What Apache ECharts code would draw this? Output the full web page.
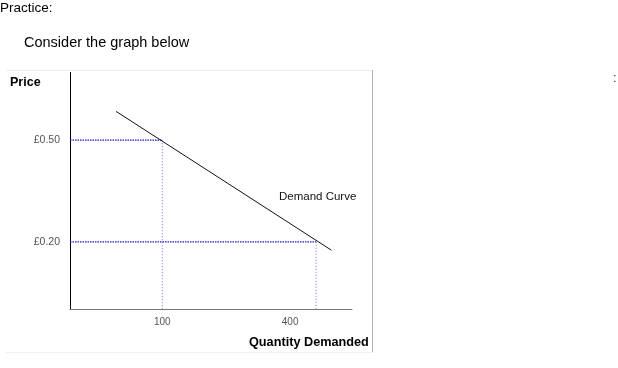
<!DOCTYPE html>
<html>
<head>
<meta charset="utf-8">
<script src="https://cdn.jsdelivr.net/npm/echarts@6/dist/echarts.min.js"></script>
<style>
html,body{margin:0;padding:0;background:#fff;}
#c{width:618px;height:368px;}
</style>
</head>
<body>
<div id="c"></div>
<script>
// Demand curve (quantity, price)
const demandQty = [10, 430];
const demandPrice = [0.585, 0.175];
// Marked points on the curve
const markQty = [100, 400];
const markPrice = [0.50, 0.20];
const xTickLabels = ['100', '400'];
const yTickLabels = ['£0.50', '£0.20'];

const chart = echarts.init(document.getElementById('c'), null, {renderer: 'canvas'});

const series = [];
series.push({
  type: 'line',
  data: demandQty.map((q, i) => [q, demandPrice[i]]),
  symbol: 'none',
  lineStyle: {color: '#111', width: 1},
  silent: true,
  z: 5
});
markQty.forEach((q, i) => {
  series.push({
    type: 'line',
    data: [[-80, markPrice[i]], [q, markPrice[i]]],
    symbol: 'none',
    lineStyle: {color: '#1a1acc', width: 1.3, type: [1.5, 1]},
    silent: true
  });
  series.push({
    type: 'line',
    data: [[q, markPrice[i]], [q, 0]],
    symbol: 'none',
    lineStyle: {color: '#6a6af0', width: 1, type: [1, 2]},
    silent: true
  });
});

chart.setOption({
  animation: false,
  backgroundColor: '#fff',
  grid: {left: 70, right: 266, top: 72.5, bottom: 58.5, containLabel: false},
  xAxis: {
    type: 'value', min: -80, max: 470,
    splitLine: {show: false},
    axisLine: {show: true, onZero: false, lineStyle: {color: '#777', width: 1}},
    axisTick: {show: false},
    axisLabel: {
      customValues: markQty,
      color: '#555', fontSize: 10, fontFamily: 'Liberation Sans', margin: 8,
      formatter: function (v) {
        const i = markQty.indexOf(v);
        const t = i >= 0 ? xTickLabels[i] : '';
        return i === 1 ? '{s|' + t + '}' : t;
      },
      rich: {s: {color: '#555', fontSize: 10, fontFamily: 'Liberation Sans', padding: [0, 52, 0, 0]}}
    }
  },
  yAxis: {
    type: 'value', min: 0, max: 0.7,
    splitLine: {show: false},
    axisLine: {show: true, onZero: false, lineStyle: {color: '#000', width: 1}},
    axisTick: {show: false},
    axisLabel: {
      customValues: markPrice,
      color: '#555', fontSize: 10.5, fontFamily: 'Liberation Sans', margin: 10,
      formatter: function (v) {
        const i = markPrice.indexOf(v);
        return i >= 0 ? yTickLabels[i] : '';
      }
    }
  },
  series: series,
  graphic: [
    {type: 'line', shape: {x1: 6, y1: 70.5, x2: 373, y2: 70.5}, style: {stroke: '#eeeeee', lineWidth: 1}, silent: true},
    {type: 'line', shape: {x1: 372.5, y1: 70, x2: 372.5, y2: 353}, style: {stroke: '#b0b0b0', lineWidth: 1}, silent: true},
    {type: 'line', shape: {x1: 6, y1: 352.5, x2: 373, y2: 352.5}, style: {stroke: '#f0f0f0', lineWidth: 1}, silent: true},
    {type: 'text', left: 0, top: 1, style: {text: 'Practice:', fill: '#000', font: '13.5px "Liberation Sans"'}},
    {type: 'text', left: 24, top: 35, style: {text: 'Consider the graph below', fill: '#000', font: '14.5px "Liberation Sans"'}},
    {type: 'text', left: 10, top: 76.5, style: {text: 'Price', fill: '#000', font: 'bold 12.5px "Liberation Sans"'}},
    {type: 'text', left: 279, top: 191, style: {text: 'Demand Curve', fill: '#111', font: '11.5px "Liberation Sans"'}},
    {type: 'text', left: 249, top: 335.5, style: {text: 'Quantity Demanded', fill: '#000', font: 'bold 12.7px "Liberation Sans"'}},
    {type: 'text', left: 613, top: 71.5, style: {text: ':', fill: '#333', font: '13px "Liberation Sans"'}}
  ]
});
</script>
</body>
</html>
